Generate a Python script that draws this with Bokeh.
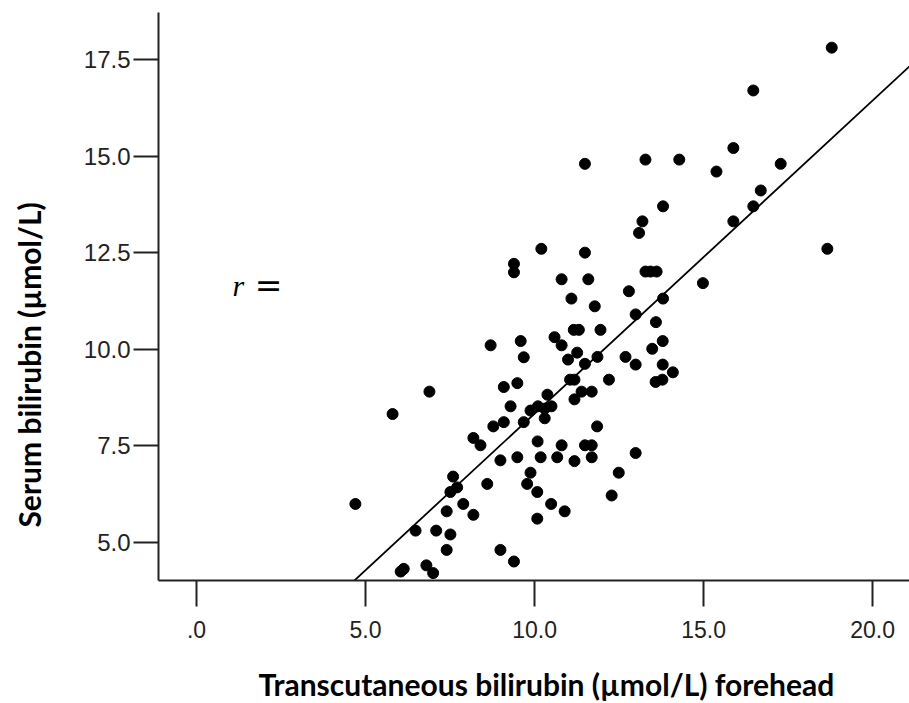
import numpy as np
from bokeh.plotting import figure
from bokeh.layouts import row, column
from bokeh.models import Range1d, FixedTicker, Label, ColumnDataSource
from bokeh.embed import file_html
from bokeh.resources import INLINE

# Data
tcb_forehead = [
    18.79, 16.47, 15.88, 17.28, 15.38, 13.28, 14.28, 11.49, 16.69, 16.47,
    15.88, 13.80, 13.19, 13.09, 18.66, 10.20, 11.49, 9.39, 9.39, 13.28,
    13.43, 13.61, 10.80, 11.59, 12.79, 14.98, 11.09, 11.78, 13.80, 12.99,
    13.59, 11.16, 11.31, 11.95, 8.70, 9.59, 9.68, 10.59, 10.80, 11.26,
    10.99, 11.49, 11.86, 13.79, 13.48, 12.69, 12.99, 13.79, 14.09, 12.20,
    13.58, 13.78, 6.89, 5.80, 9.09, 9.49, 9.29, 11.05, 11.18, 10.38,
    11.18, 11.39, 11.69, 9.88, 10.10, 10.30, 10.50, 10.30, 8.78, 9.09,
    9.68, 11.85, 8.19, 8.40, 10.09, 10.80, 11.49, 11.69, 8.99, 9.49,
    10.18, 10.67, 11.18, 11.69, 9.88, 9.78, 10.08, 7.59, 7.71, 7.51,
    8.60, 4.70, 7.89, 7.40, 8.19, 10.49, 10.89, 10.08, 6.48, 7.09,
    7.51, 7.40, 8.99, 9.39, 6.04, 6.13, 6.80, 7.00, 12.99, 12.49,
    12.28,
]
serum_bilirubin = [
    17.81, 16.70, 15.21, 14.80, 14.60, 14.91, 14.91, 14.80, 14.11, 13.70,
    13.31, 13.70, 13.31, 13.01, 12.60, 12.60, 12.50, 12.21, 11.99, 12.01,
    12.01, 12.01, 11.81, 11.81, 11.50, 11.71, 11.31, 11.11, 11.31, 10.90,
    10.70, 10.50, 10.50, 10.50, 10.10, 10.21, 9.79, 10.31, 10.10, 9.91,
    9.73, 9.62, 9.80, 10.21, 10.01, 9.80, 9.60, 9.60, 9.40, 9.21,
    9.15, 9.21, 8.90, 8.32, 9.02, 9.12, 8.52, 9.21, 9.21, 8.82,
    8.70, 8.90, 8.90, 8.41, 8.52, 8.46, 8.52, 8.21, 8.00, 8.11,
    8.11, 8.00, 7.70, 7.51, 7.61, 7.51, 7.51, 7.51, 7.12, 7.20,
    7.20, 7.20, 7.10, 7.20, 6.80, 6.51, 6.30, 6.70, 6.42, 6.30,
    6.51, 5.99, 5.99, 5.80, 5.71, 5.99, 5.80, 5.61, 5.30, 5.30,
    5.20, 4.80, 4.80, 4.50, 4.24, 4.31, 4.40, 4.20, 7.31, 6.80,
    6.21,
]
x_ticks = [0, 5, 10, 15, 20]
x_tick_labels = [".0", "5.0", "10.0", "15.0", "20.0"]
y_ticks = [5.0, 7.5, 10.0, 12.5, 15.0, 17.5]
y_tick_labels = ["5.0", "7.5", "10.0", "12.5", "15.0", "17.5"]
x_title = "Transcutaneous bilirubin (µmol/L) forehead"
y_title = "Serum bilirubin (µmol/L)"
fit_intercept = 0.22
fit_slope = 0.811

X_START, X_END = -1.124, 21.09
Y_START, Y_END = 4.008, 18.72

TITLE_FONT = dict(text_font="Lato", text_font_style="bold", text_font_size="30px",
                  text_color="black")


def strip(w, h):
    f = figure(width=w, height=h, output_backend="svg", toolbar_location=None,
               x_range=Range1d(0, w), y_range=Range1d(0, h),
               x_axis_location=None, y_axis_location=None,
               min_border=0, min_border_left=0, min_border_right=0,
               min_border_top=0, min_border_bottom=0)
    f.outline_line_color = None
    f.grid.visible = False
    f.background_fill_color = "white"
    f.border_fill_color = "white"
    return f


# main plot
p = figure(width=859, height=650, output_backend="svg", toolbar_location=None,
           x_range=Range1d(X_START, X_END), y_range=Range1d(Y_START, Y_END),
           min_border_left=108, min_border_right=0, min_border_top=12,
           min_border_bottom=70)
p.outline_line_color = None
p.grid.visible = False
p.background_fill_color = "white"
p.border_fill_color = "white"

for ax in (p.xaxis[0], p.yaxis[0]):
    ax.axis_line_color = "#222222"
    ax.axis_line_width = 2
    ax.major_tick_line_color = "#222222"
    ax.major_tick_line_width = 2
    ax.major_tick_in = 0
    ax.minor_tick_line_color = None
    ax.major_label_text_font = "Liberation Sans"
    ax.major_label_text_color = "#222222"

p.xaxis.ticker = FixedTicker(ticks=x_ticks)
p.xaxis.major_label_overrides = {t: l for t, l in zip(x_ticks, x_tick_labels)}
p.xaxis.major_tick_out = 26
p.xaxis.major_label_standoff = 14
p.xaxis.major_label_text_font_size = "23px"

p.yaxis.ticker = FixedTicker(ticks=y_ticks)
p.yaxis.major_label_overrides = {t: l for t, l in zip(y_ticks, y_tick_labels)}
p.yaxis.major_tick_out = 25
p.yaxis.major_label_standoff = 3
p.yaxis.major_label_text_font_size = "24px"

# regression line
xl = np.array([X_START, X_END])
p.line(xl, fit_intercept + fit_slope * xl, line_color="black", line_width=1.8)

src = ColumnDataSource(dict(x=tcb_forehead, y=serum_bilirubin))
p.scatter("x", "y", source=src, size=11, fill_color="black", line_color="black")

p.add_layout(Label(x=1.065, y=11.64, text="r", text_font="Liberation Serif",
                   text_font_style="italic", text_font_size="30px",
                   text_align="left", text_baseline="alphabetic", text_color="black"))
p.add_layout(Label(x=1.72, y=11.64, text="=", text_font="DejaVu Serif",
                   text_font_size="33px",
                   text_align="left", text_baseline="alphabetic", text_color="black"))

# y-axis title strip (left of the plot; its frame is aligned with the main frame)
ys = strip(50, 650)
ys.add_layout(Label(x=28, y=60.6, text=y_title, angle=np.pi / 2,
                    text_align="left", text_baseline="alphabetic", **TITLE_FONT))

# x-axis title strip (below the plot)
xs = strip(909, 53)
xs.add_layout(Label(x=258, y=20, text=x_title,
                    text_align="left", text_baseline="alphabetic", **TITLE_FONT))

layout = column(row(ys, p, spacing=0), xs, spacing=0)
open("out.html", "w").write(file_html(layout, INLINE))
